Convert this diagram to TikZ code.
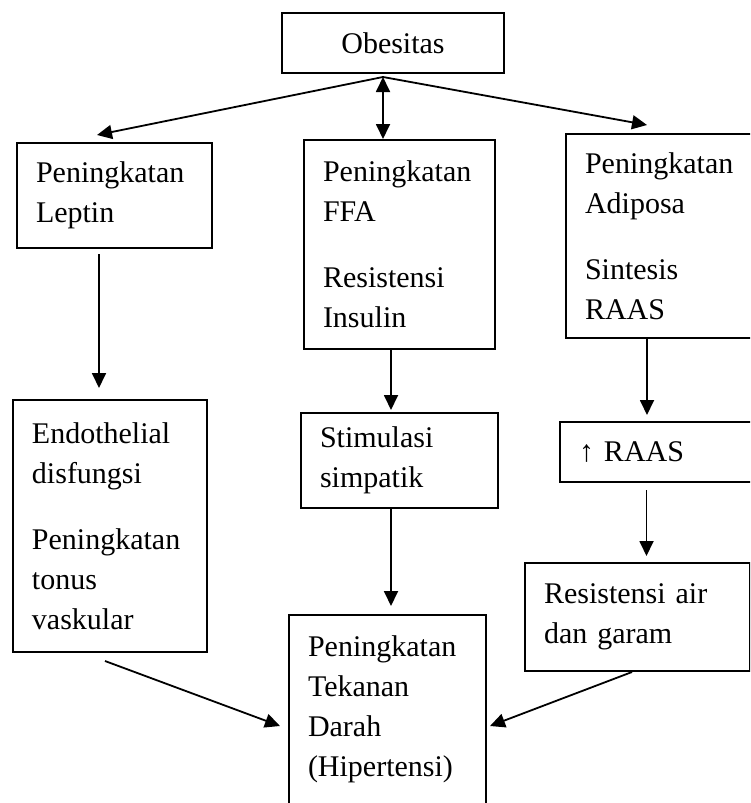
\documentclass[tikz,border=0pt]{standalone}
\usepackage{fontspec}
\setmainfont{Liberation Serif}
\usetikzlibrary{shapes,arrows.meta,positioning,calc}

\begin{document}
\begin{tikzpicture}[x=0.5pt, y=-0.5pt,
  kotak/.style={rectangle, draw, line width=1pt, anchor=north west, inner xsep=9.5pt, inner ysep=0pt, align=left, font=\fontsize{15}{20}\selectfont},
  panah/.style={-{Triangle[length=7.5pt,width=7pt]}, line width=0.9pt},
  panahdua/.style={{Triangle[length=7.5pt,width=7pt]}-{Triangle[length=7.5pt,width=7pt]}, line width=0.9pt}]
\useasboundingbox (0,0) rectangle (750,803);
\clip (0,0) rectangle (750,803);

\node[kotak, align=center, text width=92pt, minimum height=30pt] (obes) at (281,12) {Obesitas};
\node[kotak, text width=78.5pt, minimum height=52.5pt] (lep) at (16,142) {Peningkatan\\Leptin};
\node[kotak, text width=76.5pt, minimum height=104.5pt] (ffa) at (303,139) {Peningkatan\\FFA\\[13pt]Resistensi\\Insulin};
\node[kotak, text width=86pt, minimum height=102pt] (adip) at (565,133) {Peningkatan\\Adiposa\\[13pt]Sintesis\\RAAS};
\node[kotak, text width=78pt, minimum height=126pt] (endo) at (12,399) {Endothelial\\disfungsi\\[13pt]Peningkatan\\tonus\\vaskular};
\node[kotak, text width=79.5pt, minimum height=47.5pt] (stim) at (300,412) {Stimulasi\\simpatik};
\node[kotak, text width=89pt, minimum height=30pt] (raas) at (559,421) {↑ RAAS};
\node[kotak, text width=93.5pt, minimum height=54pt] (resair) at (524,562) {Resistensi air\\dan garam};
\node[kotak, text width=79.5pt, minimum height=111pt] (tek) at (288,614) {Peningkatan\\Tekanan\\Darah\\(Hipertensi)\\\mbox{}};

\coordinate (apex) at (383,77);
\draw[panah] (apex) -- ($(lep.north west)+(81,-7)$);
\draw[panah] (apex) -- ($(adip.north west)+(82,-8)$);
\draw[panahdua] (apex) -- (apex |- ffa.north);

\draw[panah] ($(lep.south west)+(83,5)$) -- ($(endo.north west)+(87,-11)$);
\draw[panah] ($(ffa.south west)+(88,0)$) -- ($(stim.north west)+(91,-2)$);
\draw[panah] ($(adip.south west)+(82,0)$) -- ($(raas.north west)+(88,-6)$);
\draw[panah] ($(raas.south west)+(87.5,7)$) -- ($(resair.north west)+(122.5,-6)$);
\draw[panah] ($(stim.south west)+(91,0)$) -- ($(tek.north west)+(103,-8)$);

% menuju hipertensi
\draw[panah] ($(endo.south west)+(93,8)$) -- ($(tek.north west)+(-8,112)$);
\draw[panah] ($(resair.south west)+(108,0)$) -- ($(tek.north east)+(3,112)$);
\end{tikzpicture}
\end{document}
